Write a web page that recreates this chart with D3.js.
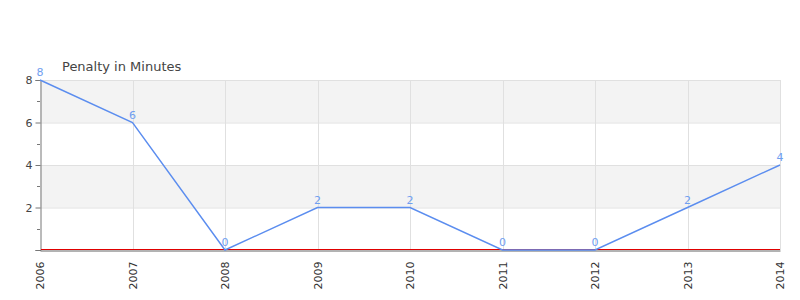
<!DOCTYPE html>
<html>
<head>
<meta charset="utf-8">
<script src="https://cdn.jsdelivr.net/npm/d3@7"></script>
<style>
  body { margin: 0; background: #fff; }
  svg { font-family: "DejaVu Sans", sans-serif; }
</style>
</head>
<body>
<svg id="chart" width="800" height="300"></svg>
<script>
const years = ['2006', '2007', '2008', '2009', '2010', '2011', '2012', '2013', '2014'];
const penalties = [8, 6, 0, 2, 2, 0, 0, 2, 4];
const yTicks = [2, 4, 6, 8];
const yMinorTicks = [1, 3, 5, 7];
const bands = [[6, 8], [2, 4]];

const margin = { top: 80, right: 20, bottom: 50, left: 40 };
const width = 800, height = 300;

const svg = d3.select('#chart');

const x = d3.scalePoint().domain(years).range([margin.left, width - margin.right]);
const y = d3.scaleLinear().domain([0, 8]).range([height - margin.bottom, margin.top]);

// alternating bands
svg.append('g').selectAll('rect')
  .data(bands)
  .join('rect')
  .attr('x', margin.left)
  .attr('width', width - margin.right - margin.left)
  .attr('y', d => y(d[1]))
  .attr('height', d => y(d[0]) - y(d[1]))
  .attr('fill', '#f3f3f3');

// grid lines
svg.append('g').selectAll('line')
  .data(yTicks)
  .join('line')
  .attr('x1', margin.left)
  .attr('x2', width - margin.right)
  .attr('y1', d => y(d) + 0.5)
  .attr('y2', d => y(d) + 0.5)
  .attr('stroke', '#e0e0e0');

svg.append('g').selectAll('line')
  .data(years.slice(1))
  .join('line')
  .attr('x1', d => Math.round(x(d)) + 0.5)
  .attr('x2', d => Math.round(x(d)) + 0.5)
  .attr('y1', margin.top)
  .attr('y2', y(0))
  .attr('stroke', '#e0e0e0');

// y axis
const yAxis = svg.append('g')
  .attr('transform', `translate(${margin.left + 0.5},0)`)
  .call(d3.axisLeft(y).tickValues([0, ...yTicks]).tickSize(5).tickFormat(d => d === 0 ? '' : d));
yAxis.select('.domain').attr('stroke', '#777');
yAxis.selectAll('.tick line').attr('stroke', '#777');
yAxis.selectAll('text').attr('fill', '#444').attr('font-size', 11).attr('font-family', '"DejaVu Sans", sans-serif');

svg.append('g').selectAll('line')
  .data(yMinorTicks)
  .join('line')
  .attr('x1', margin.left - 3)
  .attr('x2', margin.left)
  .attr('y1', d => Math.round(y(d)) + 0.5)
  .attr('y2', d => Math.round(y(d)) + 0.5)
  .attr('stroke', '#777');

// x axis
const xAxis = svg.append('g')
  .attr('transform', `translate(0,${y(0) + 0.5})`)
  .call(d3.axisBottom(x).tickSize(0).tickPadding(0));
xAxis.select('.domain').attr('stroke', '#666').attr('stroke-width', 1);
xAxis.selectAll('text')
  .attr('fill', '#333')
  .attr('font-size', 11)
  .attr('font-family', '"DejaVu Sans", sans-serif')
  .attr('transform', 'rotate(-90)')
  .attr('text-anchor', 'end')
  .attr('dy', '0.35em')
  .attr('x', -11)
  .attr('y', 0);

// red zero line
svg.append('line')
  .attr('x1', margin.left + 1)
  .attr('x2', width - margin.right)
  .attr('y1', y(0) - 0.5)
  .attr('y2', y(0) - 0.5)
  .attr('stroke', '#e00000')
  .attr('stroke-width', 1);

// series
const line = d3.line()
  .x((d, i) => x(years[i]))
  .y(d => y(d));

svg.append('path')
  .datum(penalties)
  .attr('d', line)
  .attr('fill', 'none')
  .attr('stroke', '#5b8def')
  .attr('stroke-width', 1.4);

svg.append('g').selectAll('text')
  .data(penalties)
  .join('text')
  .attr('x', (d, i) => x(years[i]))
  .attr('y', d => y(d) - 4)
  .attr('text-anchor', 'middle')
  .attr('font-size', 11)
  .attr('fill', '#6f9ef0')
  .text(d => d);

// title
svg.append('text')
  .attr('x', 62)
  .attr('y', 71)
  .attr('font-size', 13)
  .attr('fill', '#444')
  .text('Penalty in Minutes');
</script>
</body>
</html>
